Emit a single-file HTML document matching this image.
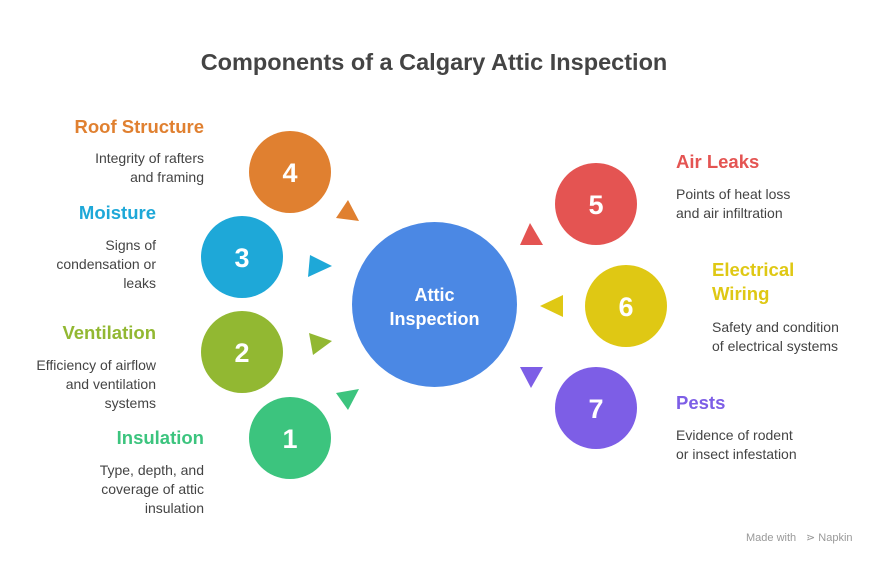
<!DOCTYPE html>
<html><head><meta charset="utf-8"><style>
body{margin:0;background:#fff;}
svg text{font-family:"Liberation Sans",sans-serif;}
</style></head><body>
<svg width="879" height="565" viewBox="0 0 879 565" xmlns="http://www.w3.org/2000/svg">
<text x="434" y="70" text-anchor="middle" font-size="23.5" font-weight="bold" fill="#444">Components of a Calgary Attic Inspection</text>
<circle cx="434.5" cy="304.5" r="82.5" fill="#4b88e4"/>
<text x="434.5" y="301" text-anchor="middle" font-size="18" font-weight="bold" fill="#fff">Attic</text>
<text x="434.5" y="325" text-anchor="middle" font-size="18" font-weight="bold" fill="#fff">Inspection</text>
<polygon points="348,200 336,218 359,221" fill="#e08030"/>
<polygon points="310,255 332,266 308,277" fill="#1ea8d8"/>
<polygon points="309,333 332,341 313,355" fill="#92b832"/>
<polygon points="336,393 359,389 348,410" fill="#3cc47e"/>
<polygon points="530,223 520,245 543,245" fill="#e45452"/>
<polygon points="563,295 540,306 563,317" fill="#dfc814"/>
<polygon points="520,367 543,367 531,388" fill="#7d5ee6"/>
<g font-size="27" font-weight="bold" fill="#fff" text-anchor="middle">
<circle cx="290" cy="172" r="41" fill="#e08030"/><text x="290" y="182">4</text>
<circle cx="242" cy="257" r="41" fill="#1ea8d8"/><text x="242" y="267">3</text>
<circle cx="242" cy="352" r="41" fill="#92b832"/><text x="242" y="362">2</text>
<circle cx="290" cy="438" r="41" fill="#3cc47e"/><text x="290" y="448">1</text>
<circle cx="596" cy="204" r="41" fill="#e45452"/><text x="596" y="214">5</text>
<circle cx="626" cy="306" r="41" fill="#dfc814"/><text x="626" y="316">6</text>
<circle cx="596" cy="408" r="41" fill="#7d5ee6"/><text x="596" y="418">7</text>
</g>
<g text-anchor="end" font-size="14" fill="#444">
<text x="204" y="133" font-size="18.5" font-weight="bold" fill="#e08030">Roof Structure</text>
<text x="204" y="163">Integrity of rafters</text>
<text x="204" y="182">and framing</text>
<text x="156" y="219" font-size="18.5" font-weight="bold" fill="#1ea8d8">Moisture</text>
<text x="156" y="250">Signs of</text>
<text x="156" y="269">condensation or</text>
<text x="156" y="288">leaks</text>
<text x="156" y="339" font-size="18.5" font-weight="bold" fill="#92b832">Ventilation</text>
<text x="156" y="370">Efficiency of airflow</text>
<text x="156" y="389">and ventilation</text>
<text x="156" y="408">systems</text>
<text x="204" y="444" font-size="18.5" font-weight="bold" fill="#3cc47e">Insulation</text>
<text x="204" y="475">Type, depth, and</text>
<text x="204" y="494">coverage of attic</text>
<text x="204" y="513">insulation</text>
</g>
<g font-size="14" fill="#444">
<text x="676" y="168" font-size="18.5" font-weight="bold" fill="#e45452">Air Leaks</text>
<text x="676" y="199">Points of heat loss</text>
<text x="676" y="218">and air infiltration</text>
<text x="712" y="276" font-size="18.5" font-weight="bold" fill="#dfc814">Electrical</text>
<text x="712" y="300" font-size="18.5" font-weight="bold" fill="#dfc814">Wiring</text>
<text x="712" y="332">Safety and condition</text>
<text x="712" y="351">of electrical systems</text>
<text x="676" y="409" font-size="18.5" font-weight="bold" fill="#7d5ee6">Pests</text>
<text x="676" y="440">Evidence of rodent</text>
<text x="676" y="459">or insect infestation</text>
</g>
<text x="746" y="541" font-size="11" fill="#999">Made with</text>
<text x="806" y="541" font-size="11" fill="#999">⋗ Napkin</text>
</svg>
</body></html>
